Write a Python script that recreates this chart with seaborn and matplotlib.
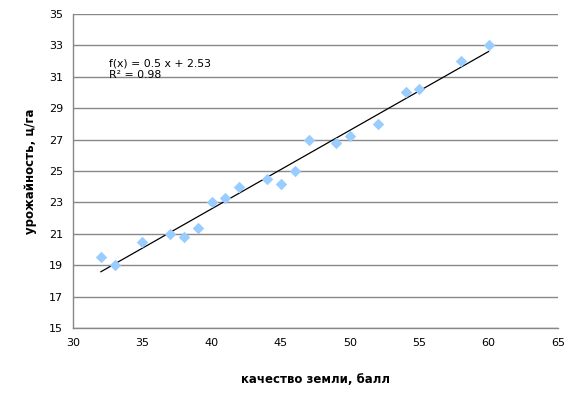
import matplotlib
matplotlib.use("Agg")
import matplotlib.pyplot as plt
import seaborn as sns
import pandas as pd

quality = [32, 33, 35, 37, 38, 39, 40, 41, 42, 44, 45, 46, 47, 49, 50, 52, 54, 55, 58, 60]
yield_ = [19.5, 19.0, 20.5, 21.0, 20.8, 21.4, 23.0, 23.3, 24.0, 24.5, 24.2, 25.0,
          27.0, 26.8, 27.2, 28.0, 30.0, 30.2, 32.0, 33.0]
x_ticks = [30, 35, 40, 45, 50, 55, 60, 65]
y_ticks = [15, 17, 19, 21, 23, 25, 27, 29, 31, 33, 35]
eq_text = "f(x) = 0.5 x + 2.53\nR² = 0.98"

df = pd.DataFrame({"x": quality, "y": yield_})

sns.set_style("white")
plt.rcParams['font.family'] = ['DejaVu Sans']
plt.rcParams['text.color'] = 'black'
plt.rcParams['axes.labelcolor'] = 'black'
plt.rcParams['xtick.color'] = 'black'
plt.rcParams['ytick.color'] = 'black'

fig = plt.figure(figsize=(5.77, 3.95), dpi=100)
ax = fig.add_axes([73/577, 1 - 328/395, (558-73)/577, (328-14)/395])

sns.scatterplot(data=df, x="x", y="y", marker="D", color="#99ccff", s=34,
                edgecolor="#99ccff", linewidth=0, ax=ax, zorder=3)
sns.regplot(data=df, x="x", y="y", ci=None, scatter=False, truncate=True,
            line_kws=dict(color="black", lw=0.9), ax=ax)

ax.set_xlim(30, 65)
ax.set_ylim(15, 35)
ax.set_xticks(x_ticks)
ax.set_yticks(y_ticks)
ax.yaxis.grid(True, color="#888888", lw=1)
ax.xaxis.grid(False)
ax.set_axisbelow(True)
for s in ["top", "right"]:
    ax.spines[s].set_visible(False)
for s in ["left", "bottom"]:
    ax.spines[s].set_color("#888888")
    ax.spines[s].set_linewidth(1)
ax.tick_params(axis="both", direction="out", length=4, width=1, color="#888888",
               labelcolor="black", labelsize=8, pad=3)
ax.set_xlabel("качество земли, балл", fontsize=8.5, fontweight="bold", labelpad=18)
ax.set_ylabel("урожайность, ц/га", fontsize=8.5, fontweight="bold", labelpad=9)
ax.text(32.6, 31.5, eq_text, fontsize=7.8, va="center", ha="left", linespacing=1.15,
        color="black")

fig.savefig("out.png", dpi=100)
